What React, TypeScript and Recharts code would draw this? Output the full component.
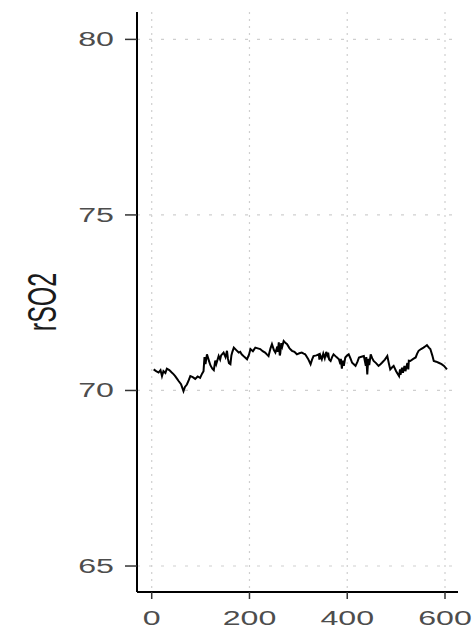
import React from 'react'
import { LineChart, Line, XAxis, YAxis, CartesianGrid } from 'recharts'

// seconds and rSO2 readings
const timeSec = [
  4, 9, 14, 18, 21, 24, 28, 31, 36, 41, 45, 48, 52, 55, 60, 65, 68, 72, 76, 79,
  84, 89, 94, 99, 103, 106, 108, 110, 113, 117, 120, 124, 127, 130, 132, 137, 140, 142, 147, 151,
  154, 156, 158, 161, 163, 165, 168, 173, 178, 181, 184, 190, 195, 199, 202, 207, 212, 217, 222, 227,
  232, 236, 239, 243, 246, 250, 253, 257, 258, 260, 262, 263, 265, 267, 270, 274, 277, 282, 287, 292,
  297, 302, 307, 311, 314, 320, 325, 328, 331, 337, 342, 343, 345, 348, 351, 354, 357, 359, 361, 363,
  366, 369, 372, 378, 383, 386, 387, 389, 391, 393, 396, 400, 403, 407, 410, 414, 417, 421, 424, 429,
  434, 438, 439, 441, 443, 445, 448, 451, 454, 459, 464, 468, 471, 477, 482, 485, 488, 492, 495, 500,
  506, 508, 509, 512, 514, 517, 519, 523, 525, 526, 529, 535, 540, 543, 546, 551, 556, 560, 563, 567,
  570, 574, 577, 582, 587, 593, 598, 604,
]

const rso2 = [
  70.6, 70.55, 70.51, 70.58, 70.41, 70.55, 70.5, 70.62, 70.58, 70.51, 70.46, 70.41, 70.33, 70.27, 70.18, 69.98, 70.1, 70.17, 70.3, 70.41,
  70.38, 70.33, 70.4, 70.36, 70.48, 70.55, 70.95, 70.75, 71.03, 70.85, 70.72, 70.62, 70.58, 70.85, 70.75, 70.98, 70.88, 71.0, 71.08, 70.95,
  71.13, 70.9, 70.78, 70.75, 71.0, 71.1, 71.22, 71.15, 71.08, 71.1, 71.03, 70.95, 70.89, 71.02, 71.18, 71.12, 71.22, 71.2, 71.18, 71.12,
  71.08, 71.02, 70.98, 71.2, 71.32, 71.15, 71.08, 71.25, 71.1, 71.37, 71.0, 71.05, 71.35, 71.25, 71.41, 71.35, 71.32, 71.2, 71.13, 71.1,
  71.03, 71.06, 71.08, 71.05, 71.03, 70.9, 70.75, 70.88, 70.98, 71.0, 71.03, 70.88, 71.0, 70.89, 71.05, 70.92, 71.1, 71.0, 71.08, 70.88,
  70.84, 70.95, 71.03, 70.95, 70.89, 70.75, 70.9, 70.62, 70.85, 70.7, 70.94, 71.0, 71.03, 70.9, 70.79, 70.74, 70.7, 70.82, 70.94, 70.96,
  70.98, 70.7, 70.95, 70.46, 70.9, 70.72, 71.03, 70.92, 70.84, 70.78, 70.7, 70.75, 70.79, 70.88, 70.98, 70.78, 70.6, 70.66, 70.7, 70.55,
  70.41, 70.6, 70.45, 70.65, 70.5, 70.7, 70.55, 70.78, 70.6, 70.85, 70.84, 70.9, 70.94, 71.05, 71.13, 71.18, 71.22, 71.26, 71.29, 71.22,
  71.18, 71.0, 70.84, 70.82, 70.79, 70.75, 70.7, 70.6,
]

const xTicks = [0, 200, 400, 600]
const yTicks = [65, 70, 75, 80]

const data = timeSec.map((t, i) => ({ t, v: rso2[i] }))

// the reference is stretched sideways, so text gets a horizontal scale
const SX = 1.65
const FONT = '"Liberation Sans", Arial, sans-serif'

const YTick = ({ x, y, payload }: any) => (
  <g transform={`translate(${x},${y}) scale(${SX},1)`}>
    <text textAnchor="end" dy="0.355em" fontSize={19.5} fontFamily={FONT} fill="#4d4d4d">
      {payload.value}
    </text>
  </g>
)

const XTick = ({ x, y, payload }: any) => (
  <g transform={`translate(${x},${y}) scale(${SX},1)`}>
    <text textAnchor="middle" dy="0.71em" fontSize={19.5} fontFamily={FONT} fill="#4d4d4d">
      {payload.value}
    </text>
  </g>
)

const YTitle = () => (
  <g transform={`translate(41,302) scale(${SX},1) rotate(-90)`}>
    <text textAnchor="middle" dy="0.355em" fontSize={25} fontFamily={FONT} fill="#1a1a1a">
      rSO2
    </text>
  </g>
)

export default function App() {
  return (
    <div style={{ position: 'absolute', left: 0, top: 0, width: 476, height: 629, background: '#fff' }}>
      <LineChart width={476} height={629} data={data} margin={{ top: 12, right: 18, bottom: 0, left: 0 }}>
        <CartesianGrid horizontal={false} stroke="#cfcfcf" strokeWidth={1.2} strokeDasharray="2 5" verticalValues={xTicks} />
        <CartesianGrid vertical={false} stroke="#cfcfcf" strokeWidth={1.2} strokeDasharray="3 9" horizontalValues={yTicks} />
        <XAxis
          dataKey="t"
          type="number"
          domain={[-30.1, 626.6]}
          ticks={xTicks}
          allowDataOverflow
          height={37}
          tickSize={7}
          tickMargin={12}
          tick={<XTick />}
          axisLine={{ stroke: '#000', strokeWidth: 2 }}
          tickLine={{ stroke: '#333', strokeWidth: 1.5 }}
        />
        <YAxis
          type="number"
          domain={[64.26, 80.78]}
          ticks={yTicks}
          allowDataOverflow
          width={137}
          tickSize={12}
          tickMargin={11}
          tick={<YTick />}
          axisLine={{ stroke: '#000', strokeWidth: 2 }}
          tickLine={{ stroke: '#333', strokeWidth: 1.5 }}
          label={{ content: () => <YTitle /> }}
        />
        <Line
          dataKey="v"
          type="linear"
          stroke="#000"
          strokeWidth={2}
          dot={false}
          activeDot={false}
          isAnimationActive={false}
        />
      </LineChart>
    </div>
  )
}
